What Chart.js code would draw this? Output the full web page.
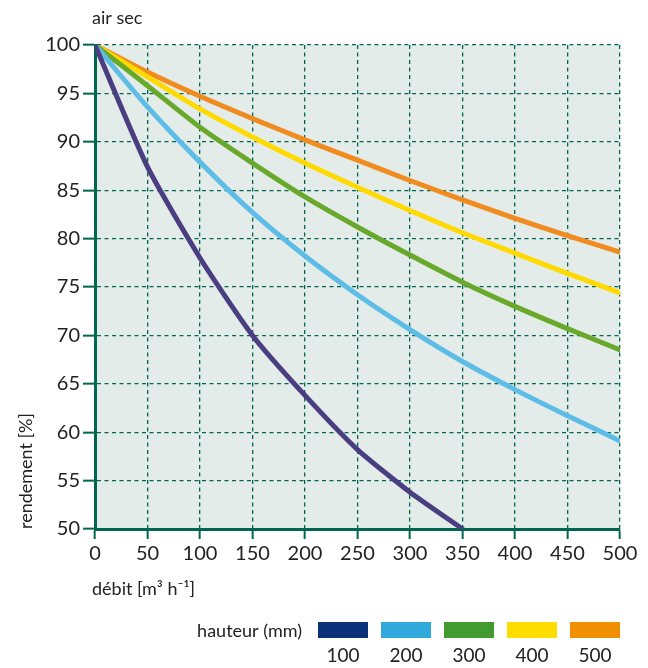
<!DOCTYPE html>
<html>
<head>
<meta charset="utf-8">
<script src="https://cdn.jsdelivr.net/npm/chart.js@4.4.0/dist/chart.umd.min.js"></script>
<style>
  body { margin: 0; background: #fff; }
</style>
</head>
<body>
<canvas id="chart" width="648" height="668"></canvas>
<script>
// débit [m3/h] on x
const debit = [0, 50, 100, 150, 200, 250, 300, 350, 400, 450, 500]
// hauteur (mm)
const hauteurs = ['100', '200', '300', '400', '500']
// rendement [%]
const rend100 = [100, 87.4, 78.0, 70.0, 63.8, 58.2, 53.8, 50.0, null, null, null]
const rend200 = [100, 93.6, 87.9, 82.7, 78.2, 74.2, 70.6, 67.3, 64.4, 61.7, 59.1]
const rend300 = [100, 95.8, 91.5, 87.8, 84.3, 81.2, 78.3, 75.5, 73.0, 70.7, 68.5]
const rend400 = [100, 96.7, 93.4, 90.5, 87.8, 85.3, 82.9, 80.6, 78.5, 76.4, 74.4]
const rend500 = [100, 97.2, 94.7, 92.4, 90.2, 88.1, 86.0, 84.0, 82.1, 80.3, 78.6]

const lineColors = ['#4a3e80', '#5dbde6', '#68a82b', '#ffd900', '#f08c1f']
const legendColors = ['#0a3278', '#31a9dc', '#439a30', '#ffdd00', '#f09000']

const teal = '#00664f'
const fontFam = 'Lato, "DejaVu Sans", sans-serif'

function toPoints(values) {
    return values.map((v, i) => ({ x: debit[i], y: v }))
}

const allSeries = [rend100, rend200, rend300, rend400, rend500]

// plot background + extra texts + custom legend
const decorPlugin = {
    id: 'decor',
    beforeDraw(chart) {
        const { ctx, chartArea } = chart
        ctx.save()
        ctx.fillStyle = '#e4ecea'
        ctx.fillRect(chartArea.left, chartArea.top, chartArea.right - chartArea.left, chartArea.bottom - chartArea.top)
        ctx.restore()
    },
    afterDraw(chart) {
        const { ctx } = chart
        ctx.save()
        ctx.fillStyle = '#222'
        ctx.font = '18px ' + fontFam
        ctx.textBaseline = 'middle'
        ctx.textAlign = 'left'
        ctx.fillText('air sec', 92, 18)
        ctx.fillText('débit [m³ h⁻¹]', 92, 589)

        // y title, rotated
        ctx.save()
        ctx.translate(26, 471)
        ctx.rotate(-Math.PI / 2)
        ctx.textAlign = 'center'
        ctx.fillText('rendement [%]', 0, 0)
        ctx.restore()

        // legend
        ctx.textAlign = 'right'
        ctx.fillText('hauteur (mm)', 302, 631)
        ctx.font = '19px ' + fontFam
        ctx.textAlign = 'center'
        hauteurs.forEach((h, i) => {
            const x = 318 + i * 63
            ctx.fillStyle = legendColors[i]
            ctx.fillRect(x, 622, 50, 16)
            ctx.fillStyle = '#222'
            ctx.fillText(h, x + 25, 656)
        })
        ctx.restore()
    }
}

const ctx = document.getElementById('chart').getContext('2d')
new Chart(ctx, {
    type: 'line',
    data: {
        datasets: allSeries.map((s, i) => ({
            label: hauteurs[i],
            data: toPoints(s),
            borderColor: lineColors[i],
            backgroundColor: lineColors[i],
            borderWidth: 5,
            pointRadius: 0,
            tension: 0.2,
            spanGaps: false,
            borderCapStyle: 'round',
            borderJoinStyle: 'round'
        }))
    },
    options: {
        responsive: false,
        animation: false,
        layout: { padding: { top: 45, right: 28, left: 0, bottom: 0 } },
        plugins: {
            legend: { display: false },
            tooltip: { enabled: false }
        },
        scales: {
            x: {
                type: 'linear',
                min: 0,
                max: 500,
                ticks: {
                    stepSize: 50,
                    color: '#222',
                    font: { family: fontFam, size: 20 },
                    padding: 3,
                    maxRotation: 0
                },
                grid: {
                    color: teal,
                    lineWidth: 1.3,
                    tickColor: teal,
                    tickLength: 10,
                    tickWidth: 2
                },
                border: { display: true, color: teal, width: 3, dash: [4, 3.5] },
                afterFit(scale) { scale.height = 668 - 529 }
            },
            y: {
                min: 50,
                max: 100,
                ticks: {
                    stepSize: 5,
                    color: '#222',
                    font: { family: fontFam, size: 20 },
                    padding: 3
                },
                grid: {
                    color: teal,
                    lineWidth: 1.3,
                    tickColor: teal,
                    tickLength: 12,
                    tickWidth: 2
                },
                border: { display: true, color: teal, width: 3, dash: [4, 3.5] },
                afterFit(scale) { scale.width = 95 }
            }
        }
    },
    plugins: [decorPlugin]
})
</script>
</body>
</html>
